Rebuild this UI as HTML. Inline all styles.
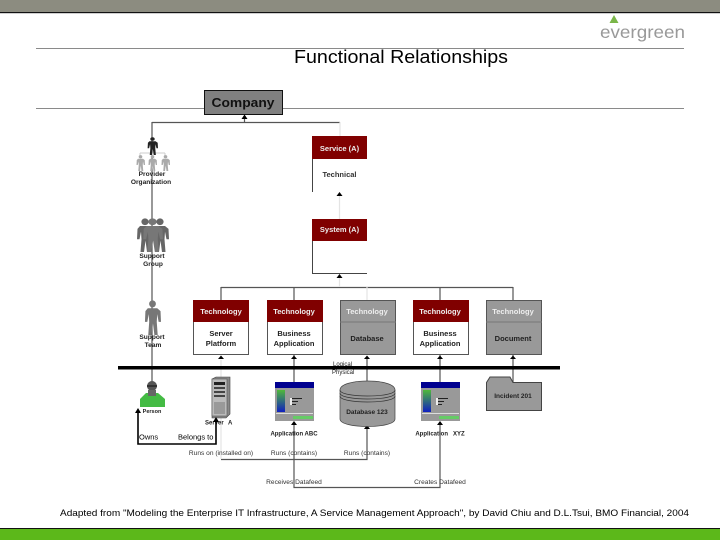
<!DOCTYPE html>
<html><head><meta charset="utf-8"><style>
html,body{margin:0;padding:0;background:#fff}
svg{display:block}
text{font-family:"Liberation Sans",sans-serif;fill:#000}
.w{fill:#eee;font-weight:bold;font-size:7.5px;text-anchor:middle}
.b{font-weight:bold;font-size:7.5px;text-anchor:middle;fill:#222}
.s{font-size:6.6px;text-anchor:middle;fill:#222;font-weight:bold}
.l{font-size:6.6px;text-anchor:middle;fill:#333}
</style></head><body>
<svg width="720" height="540" viewBox="0 0 720 540" xmlns="http://www.w3.org/2000/svg">
<defs>
<symbol id="man" viewBox="0 0 18 36" preserveAspectRatio="none">
<circle cx="9" cy="4" r="3.6"/>
<path d="M4 8.500h10l3.500 3 .5 11-2.500 0-1.500-8-.5 8 1 13.500h-3.500l-1.500-12-1.500 12h-3.500l1-13.500-.5-8-1.500 8-2.500 0 .5-11z"/>
</symbol>
<linearGradient id="g" x1="0" y1="0" x2="0" y2="1"><stop offset="0" stop-color="#4fb83a"/><stop offset="1" stop-color="#1020c0"/></linearGradient>
<symbol id="app" viewBox="0 0 39 39">
<rect width="39" height="39" fill="#999"/>
<rect width="39" height="6" fill="#000090"/>
<rect x="2" y="8" width="8" height="22" fill="url(#g)"/>
<rect x="15" y="16" width="12" height="1" fill="#222"/><rect x="15" y="19" width="8" height="1" fill="#222"/><rect x="15" y="22" width="6" height="1" fill="#222"/>
<rect x="15" y="16" width="2" height="7" fill="#eee"/>
<rect x="1" y="31" width="37" height="1" fill="#ddd"/>
<rect x="18" y="34" width="20" height="3" fill="#6c6"/>
</symbol>
</defs>

<rect width="720" height="12" fill="#8c8c80"/>
<rect y="12" width="720" height="1.200" fill="#111"/>
<rect x="36" y="48" width="648" height="1" fill="#8a8a8a"/>
<rect x="36" y="108" width="648" height="1" fill="#8a8a8a"/>

<polygon points="614,15 618.500,23 609.500,23" fill="#7ab648"/>
<text x="600" y="38" font-size="17.500" textLength="85" lengthAdjust="spacingAndGlyphs" style="fill:#999">evergreen</text>

<text x="401" y="63" font-size="18" text-anchor="middle" textLength="214" lengthAdjust="spacingAndGlyphs">Functional Relationships</text>

<rect x="204.500" y="90.500" width="78" height="24" fill="#808080" stroke="#111"/>
<text x="243" y="107" font-size="13" font-weight="bold" text-anchor="middle" textLength="63" lengthAdjust="spacingAndGlyphs" style="fill:#111">Company</text>

<g fill="none" stroke="#555" stroke-width="1.200">
<path d="M152 122.500H340M244.500 122V117"/>
<path d="M152 122V382"/>
<path d="M221 287.500H513M294 287V300M440 287V300M513 287V300M221 287V300"/>
<path d="M294 355V382M440 355V382M513 355V382M367 358V382"/>
<path d="M221 459.500H367V428M294 423V487.500H440V424"/>
</g>
<g fill="none" stroke="#e4e4e4" stroke-width="1.200">
<path d="M340 122V136M339.500 196V219M339.500 278V287M367 287V300M221 360V459"/>
</g>
<g fill="none" stroke="#ccc" stroke-width="1">
<path d="M140 153H165M152 153V157M140 153V157M165 153V157"/>
</g>

<g fill="#000">
<polygon points="244.500,114.500 247.500,119 241.500,119"/>
<polygon points="339.500,192 342.500,196 336.500,196"/>
<polygon points="339.500,274 342.500,278 336.500,278"/>
<polygon points="221,355.500 224,359 218,359"/>
<polygon points="294,355.500 297,359 291,359"/>
<polygon points="367,355.500 370,359 364,359"/>
<polygon points="440,355.500 443,359 437,359"/>
<polygon points="513,355.500 516,359 510,359"/>
<polygon points="294,421 297,425 291,425"/>
<polygon points="367,425 370,429 364,429"/>
<polygon points="440,421 443,425 437,425"/>
</g>

<rect x="312" y="136" width="55" height="23" fill="#800000"/>
<path d="M312.500 159V192" stroke="#444" fill="none"/>
<text class="w" x="339.500" y="151">Service (A)</text>
<text class="l" x="339.500" y="177" style="font-size:7.500px;font-weight:bold">Technical</text>

<rect x="312" y="219" width="55" height="22" fill="#800000"/>
<path d="M312.500 241V273.500H367" stroke="#444" fill="none"/>
<text class="w" x="339.500" y="232">System (A)</text>

<use href="#man" x="147" y="137" width="11" height="18" fill="#222"/>
<use href="#man" x="136" y="155" width="9" height="16" fill="#aaa"/>
<use href="#man" x="148" y="155" width="9" height="16" fill="#aaa"/>
<use href="#man" x="161" y="155" width="9" height="16" fill="#aaa"/>
<text class="s" x="152" y="176">Provider</text>
<text class="s" x="151" y="184">Organization</text>

<use href="#man" x="136" y="218" width="18" height="34" fill="#666"/>
<use href="#man" x="151" y="218" width="18" height="34" fill="#666"/>
<use href="#man" x="142" y="218" width="21" height="34" fill="#777"/>
<text class="s" x="152" y="258">Support</text>
<text class="s" x="153" y="266">Group</text>

<use href="#man" x="144" y="300" width="17" height="35" fill="#777"/>
<text class="s" x="152" y="339">Support</text>
<text class="s" x="153" y="347">Team</text>

<g stroke="#555" stroke-width="1">
<rect x="193.500" y="300.500" width="55" height="54" fill="#fff"/>
<rect x="267.500" y="300.500" width="55" height="54" fill="#fff"/>
<rect x="340.500" y="300.500" width="55" height="54" fill="#999"/>
<rect x="413.500" y="300.500" width="55" height="54" fill="#fff"/>
<rect x="486.500" y="300.500" width="55" height="54" fill="#999"/>
</g>
<rect x="193" y="300" width="56" height="22" fill="#800000"/>
<rect x="267" y="300" width="56" height="22" fill="#800000"/>
<rect x="413" y="300" width="56" height="22" fill="#800000"/>
<path d="M340 322H396M486 322H542" stroke="#777"/>
<text class="w" x="221" y="314">Technology</text>
<text class="w" x="294" y="314">Technology</text>
<text class="w" x="367" y="314">Technology</text>
<text class="w" x="440" y="314">Technology</text>
<text class="w" x="513" y="314">Technology</text>
<text class="b" x="221" y="336">Server</text>
<text class="b" x="221" y="346">Platform</text>
<text class="b" x="294" y="336">Business</text>
<text class="b" x="294" y="346">Application</text>
<text class="b" x="367" y="341">Database</text>
<text class="b" x="440" y="336">Business</text>
<text class="b" x="440" y="346">Application</text>
<text class="b" x="513" y="341">Document</text>

<text x="333" y="366" font-size="6" style="fill:#222">Logical</text>
<text x="332" y="374" font-size="6" style="fill:#222">Physical</text>
<rect x="118" y="366" width="442" height="3.500" fill="#000"/>

<circle cx="152" cy="386" r="5" fill="#555"/>
<rect x="147" y="385" width="10" height="2" fill="#333"/>
<path d="M140 407V399L146 393H158L165 399V407Z" fill="#44bb44"/>
<rect x="148" y="390" width="8" height="6" fill="#666"/>
<text class="s" x="152" y="413" style="font-size:5.500px">Person</text>

<path d="M212 379L216 377H230V414L226 418H212Z" fill="#888" stroke="#444" stroke-width=".6"/>
<rect x="212" y="379" width="15" height="37" fill="#bbb" stroke="#555" stroke-width=".6"/>
<rect x="214" y="382" width="11" height="3" fill="#222"/>
<rect x="214" y="387" width="11" height="2" fill="#444"/>
<rect x="214" y="391" width="11" height="2" fill="#444"/>
<rect x="214" y="395" width="11" height="2" fill="#444"/>
<rect x="214" y="402" width="11" height="12" fill="#999"/>
<text x="205" y="424.500" font-size="6" font-weight="bold" style="fill:#222">Server</text>
<text x="228" y="424.500" font-size="6" font-weight="bold" style="fill:#222">A</text>

<path d="M138 412V444H216V421" fill="none" stroke="#000" stroke-width="1.600"/>
<polygon points="138,408 141,413 135,413"/>
<polygon points="216,417 219,422 213,422"/>
<text x="139" y="439.500" font-size="7.500">Owns</text>
<text x="178" y="439.500" font-size="7.500">Belongs to</text>

<use href="#app" x="275" y="382" width="39" height="39"/>
<use href="#app" x="421" y="382" width="39" height="39"/>
<text class="s" x="294" y="435.500" style="font-size:6px">Application  ABC</text>
<text class="s" x="440" y="435.500" xml:space="preserve" style="font-size:6px">Application   XYZ</text>

<path d="M340 390C340 378 395 378 395 390V419C395 429 340 429 340 419Z" fill="#999" stroke="#444" stroke-width=".7"/>
<path d="M340 390C340 398 395 398 395 390M340 393C340 401 395 401 395 393M340 396C340 404 395 404 395 396" fill="none" stroke="#333" stroke-width=".7"/>
<text class="b" x="367" y="414" style="font-size:6.500px">Database  123</text>

<path d="M486.500 382.500L490 377H510L513 382.500H541.500V410.500H486.500Z" fill="#999" stroke="#444"/>
<text class="b" x="513" y="398" style="font-size:6.500px">Incident  201</text>

<text class="l" x="221" y="455">Runs on (installed on)</text>
<text class="l" x="294" y="455">Runs (contains)</text>
<text class="l" x="367" y="455">Runs (contains)</text>
<text class="l" x="294" y="484">Receives Datafeed</text>
<text class="l" x="440" y="484">Creates Datafeed</text>

<text x="60" y="516" font-size="9.300" textLength="629" lengthAdjust="spacingAndGlyphs">Adapted from "Modeling the Enterprise IT Infrastructure, A Service Management Approach", by David Chiu and D.L.Tsui, BMO Financial, 2004</text>

<rect y="528" width="720" height="1" fill="#111"/>
<rect y="529" width="720" height="11" fill="#5cb81a"/>
</svg>
</body></html>
